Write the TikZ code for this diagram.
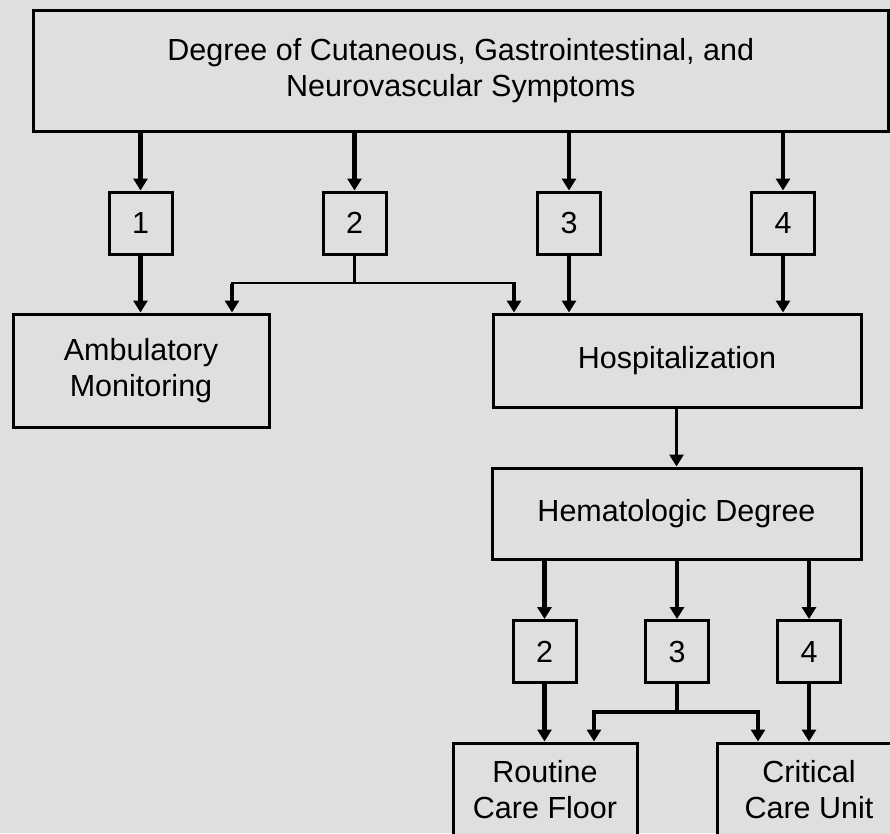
\documentclass[tikz,border=0pt]{standalone}
\usepackage{fontspec}
\setmainfont{Liberation Sans}
\usetikzlibrary{arrows.meta}
\definecolor{bg}{RGB}{223,223,223}
\begin{document}
\begin{tikzpicture}[x=1pt,y=-1pt,
  box/.style={draw,line width=3pt,fill=bg,align=center,inner sep=0pt,
    font=\fontsize{30.5}{36}\selectfont},
  numbox/.style={box,minimum width=63pt,minimum height=62pt},
  tip/.style={-{Triangle[length=12pt,width=14pt]}},
  heavyarrow/.style={tip,line width=4.5pt},
  midarrow/.style={tip,line width=3.2pt},
  thinline/.style={line width=2.5pt},
  midline/.style={line width=3.2pt}]
\useasboundingbox (0,0) rectangle (890,833);
\fill[bg] (0,0) rectangle (890,833);
\clip (0,0) rectangle (890,833);

% nodes
\node[box,minimum width=855pt,minimum height=121pt] (top) at (460.75,70.5)
  {Degree of Cutaneous, Gastrointestinal, and\\Neurovascular Symptoms};
\node[numbox] (b1) at (140.5,223) {1};
\node[numbox] (b2) at (354.5,223) {2};
\node[numbox] (b3) at (569,223) {3};
\node[numbox] (b4) at (783,223) {4};
\node[box,minimum width=256pt,minimum height=113pt] (amb) at (141,370.5)
  {Ambulatory\\Monitoring};
\node[box,minimum width=368pt,minimum height=93pt] (hosp) at (677,360.5)
  {Hospitalization};
\node[box,minimum width=369pt,minimum height=91pt] (hem) at (676.5,513.5)
  {Hematologic Degree};
\node[numbox] (c2) at (544.5,651.5) {2};
\node[numbox] (c3) at (677,651.5) {3};
\node[numbox] (c4) at (809,651.5) {4};
\node[box,minimum width=184pt,minimum height=94pt] (rout) at (545,790)
  {Routine\\Care Floor};
\node[box,minimum width=184pt,minimum height=94pt] (crit) at (809,790)
  {Critical\\Care Unit};

% top level arrows
\foreach \b in {b1,b2,b3,b4}
  \draw[heavyarrow] (top.south -| \b.north) -- (\b.north);
\draw[heavyarrow] (b1.south) -- (amb.north -| b1.south);
\draw[heavyarrow] (b3.south) -- (hosp.north -| b3.south);
\draw[heavyarrow] (b4.south) -- (hosp.north -| b4.south);

% branch from 2
\coordinate (j2) at (354.5,283);
\coordinate (ja) at (232,283);
\coordinate (jh) at (514,283);
\draw[thinline] (b2.south) -- (j2);
\draw[thinline] ([xshift=-1.5pt]ja) -- ([xshift=1.5pt]jh);
\draw[heavyarrow] ([yshift=-1.2pt]ja) -- (ja |- amb.north);
\draw[heavyarrow] ([yshift=-1.2pt]jh) -- (jh |- hosp.north);

% hospital to hematologic
\draw[midarrow] (hosp.south -| hem.north) -- (hem.north);

% hematologic to grades
\draw[heavyarrow] (hem.south -| c2.north) -- (c2.north);
\draw[midarrow] (hem.south -| c3.north) -- (c3.north);
\draw[midarrow] (hem.south -| c4.north) -- (c4.north);
\draw[heavyarrow] (c2.south) -- (rout.north -| c2.south);
\draw[midarrow] (c4.south) -- (crit.north -| c4.south);

% branch from 3
\coordinate (j3) at (677,712);
\coordinate (jr) at (594,712);
\coordinate (jc) at (758,712);
\draw[midline] (c3.south) -- (j3);
\draw[midline] ([xshift=-2pt]jr) -- ([xshift=2pt]jc);
\draw[heavyarrow] ([yshift=-1.6pt]jr) -- (jr |- rout.north);
\draw[heavyarrow] ([yshift=-1.6pt]jc) -- (jc |- crit.north);
\end{tikzpicture}
\end{document}
